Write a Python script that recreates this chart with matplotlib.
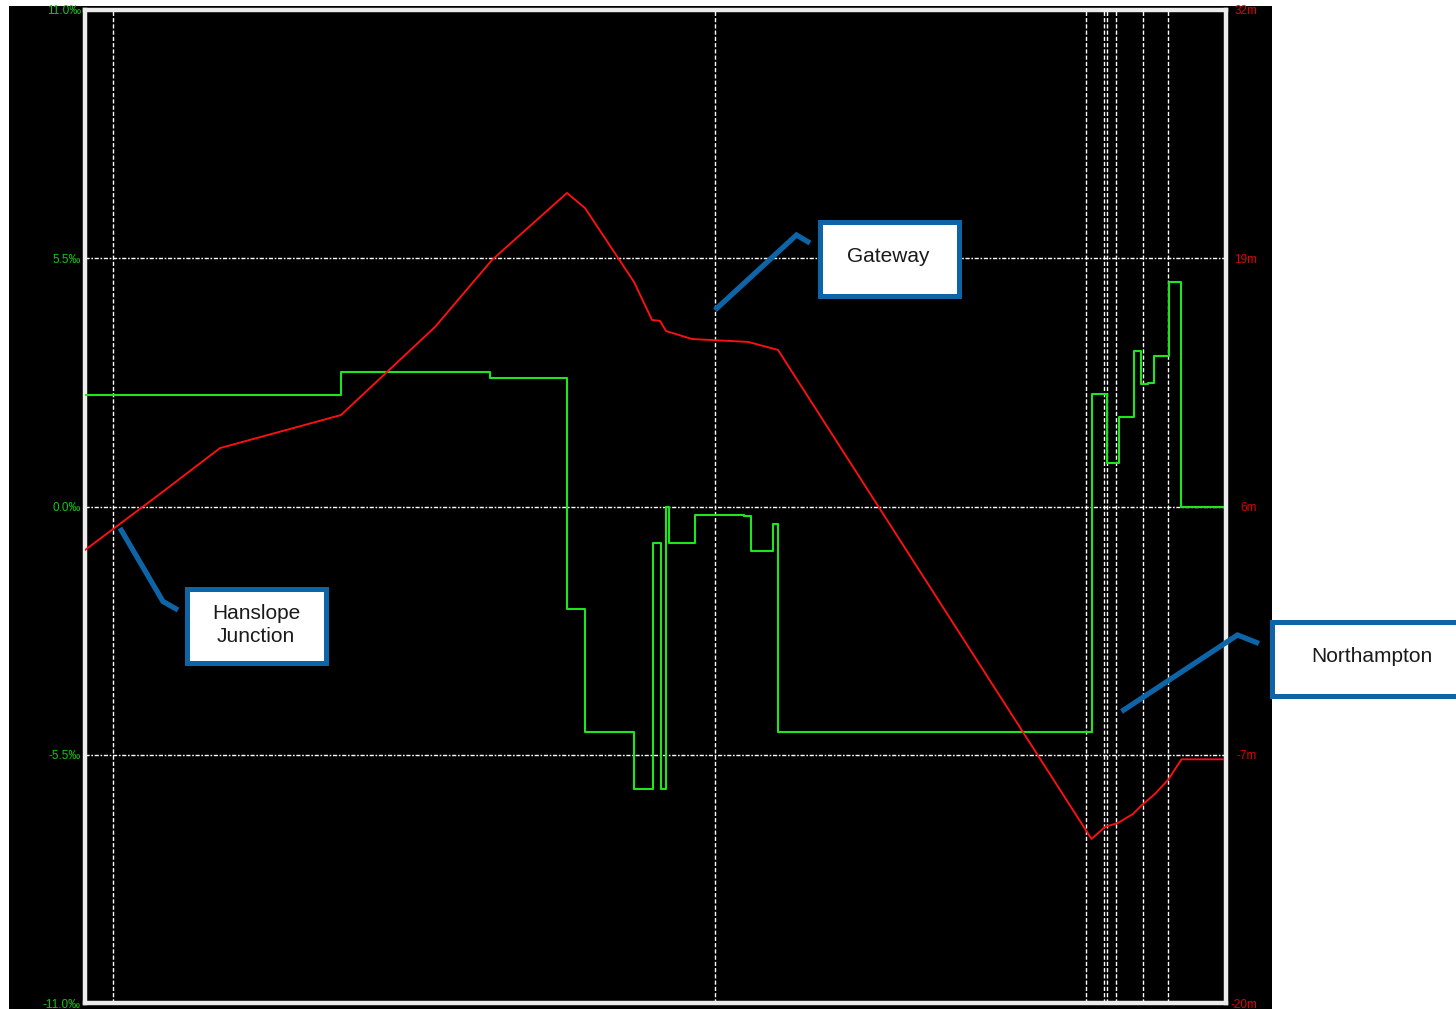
import matplotlib
matplotlib.use("Agg")
import matplotlib.pyplot as plt
from matplotlib.patches import Rectangle
from matplotlib.lines import Line2D

plt.rcParams['font.family'] = ['Liberation Sans', 'DejaVu Sans']

W, H = 1456, 1009

# ---------------- data ----------------
# gradient profile (per mille), step edges along the route (distance units)
grad_edges = [0, 256, 405, 482, 500, 549, 568, 576, 581, 583.5, 609.5, 659, 666,
              687.5, 693, 1006.5, 1021.5, 1034, 1048.5, 1056, 1062.5, 1068.5,
              1083.5, 1095.5, 1138]
grad_values = [2.47, 2.98, 2.85, -2.27, -4.99, -6.26, -0.81, -6.26, 0.0, -0.81,
               -0.18, -0.20, -0.99, -0.39, -4.99, 2.49, 0.96, 1.99, 3.44, 2.71,
               2.74, 3.33, 4.98, 0.0]

# elevation profile (m)
elev_x = [0, 75, 135, 256, 350, 407, 482, 500, 549, 567, 575, 581, 607, 663, 693,
          1006.5, 1020, 1033, 1048, 1057, 1070, 1083, 1096.5, 1138]
elev_m = [3.72, 6.66, 9.06, 10.79, 15.40, 18.91, 22.42, 21.63, 17.76, 15.77, 15.72,
          15.19, 14.77, 14.62, 14.20, -11.41, -10.78, -10.57, -10.10, -9.63, -9.05,
          -8.32, -7.24, -7.24]

# location markers (vertical lines)
markers = [28, 630, 1001, 1019, 1022, 1031, 1058, 1083]

left_ticks = [-11.0, -5.5, 0.0, 5.5, 11.0]
left_labels = ['-11.0‰', '-5.5‰', '0.0‰', '5.5‰', '11.0‰']
right_ticks = [-20, -7, 6, 19, 32]
right_labels = ['-20m', '-7m', '6m', '19m', '32m']

callouts = ['Hanslope\nJunction', 'Gateway', 'Northampton']

# ---------------- figure ----------------
fig = plt.figure(figsize=(W / 100, H / 100), dpi=100)
fig.patch.set_facecolor('white')


def fx(x):
    return x / W


def fy(y):
    return 1 - y / H


# black panel behind the chart
fig.add_artist(Rectangle((fx(9), fy(1009)), fx(1272) - fx(9), fy(6) - fy(1009),
                         transform=fig.transFigure, facecolor='black',
                         edgecolor='none', zorder=-2))

ax_l, ax_r, ax_t, ax_b = 85, 1226, 10, 1003
ax = fig.add_axes([fx(ax_l), fy(ax_b), fx(ax_r) - fx(ax_l), fy(ax_t) - fy(ax_b)])
ax.set_facecolor('black')
ax.set_xlim(0, ax_r - ax_l)
ax.set_ylim(-11, 11)
ax.set_xticks([])
ax.set_yticks(left_ticks)
ax.set_yticklabels(left_labels)
ax.tick_params(axis='y', length=0, pad=3, labelsize=8.5, labelcolor='#12c812')
for s in ax.spines.values():
    s.set_color('#ececec')
    s.set_linewidth(3.2)

ax.yaxis.grid(True, color='white', linestyle=(0, (3, 1.2, 1.2, 1.2)), linewidth=1.0)
ax.set_axisbelow(True)

for m in markers:
    ax.axvline(m, color='white', linestyle=(0, (3, 1.5)), linewidth=1.0, zorder=1)

ax.step(grad_edges, grad_values + [grad_values[-1]], where='post',
        color='#1ee61e', linewidth=1.5, zorder=3)

ax2 = ax.twinx()
ax2.set_ylim(-20, 32)
ax2.set_yticks(right_ticks)
ax2.set_yticklabels(right_labels, ha='right')
ax2.tick_params(axis='y', length=0, pad=22.5, labelsize=8.5, labelcolor='#e00000')
for s in ax2.spines.values():
    s.set_visible(False)
ax2.plot(elev_x, elev_m, color='#ff1010', linewidth=1.35, zorder=4)

# ---------------- callouts ----------------
blue = '#0d64a6'
lines = [
    [(120, 528), (163, 601.5), (178, 610)],
    [(715, 310), (796.5, 235), (810, 243)],
    [(1121.5, 711.5), (1237.5, 635), (1259, 643.5)],
]
boxes = [
    (187.5, 588.5, 325.5, 662.5),
    (819.5, 221.5, 958.5, 295.5),
    (1271.5, 621.5, 1470, 695.5),
]
text_pos = [(256, 625), (888, 256), (1372, 656)]

for pts, (x0, y0, x1, y1), txt, (tx, ty) in zip(lines, boxes, callouts, text_pos):
    fig.add_artist(Line2D([fx(p[0]) for p in pts], [fy(p[1]) for p in pts],
                          transform=fig.transFigure, color=blue, linewidth=3.8,
                          solid_capstyle='butt', solid_joinstyle='miter', zorder=5))
    fig.add_artist(Rectangle((fx(x0), fy(y1)), fx(x1) - fx(x0), fy(y0) - fy(y1),
                             transform=fig.transFigure, facecolor='white',
                             edgecolor=blue, linewidth=3.6, zorder=5))
    fig.text(fx(tx), fy(ty), txt, ha='center', va='center', fontsize=15,
             color='#1a1a1a', linespacing=1.3, zorder=6)

fig.savefig('out.png', dpi=100, facecolor='white')
